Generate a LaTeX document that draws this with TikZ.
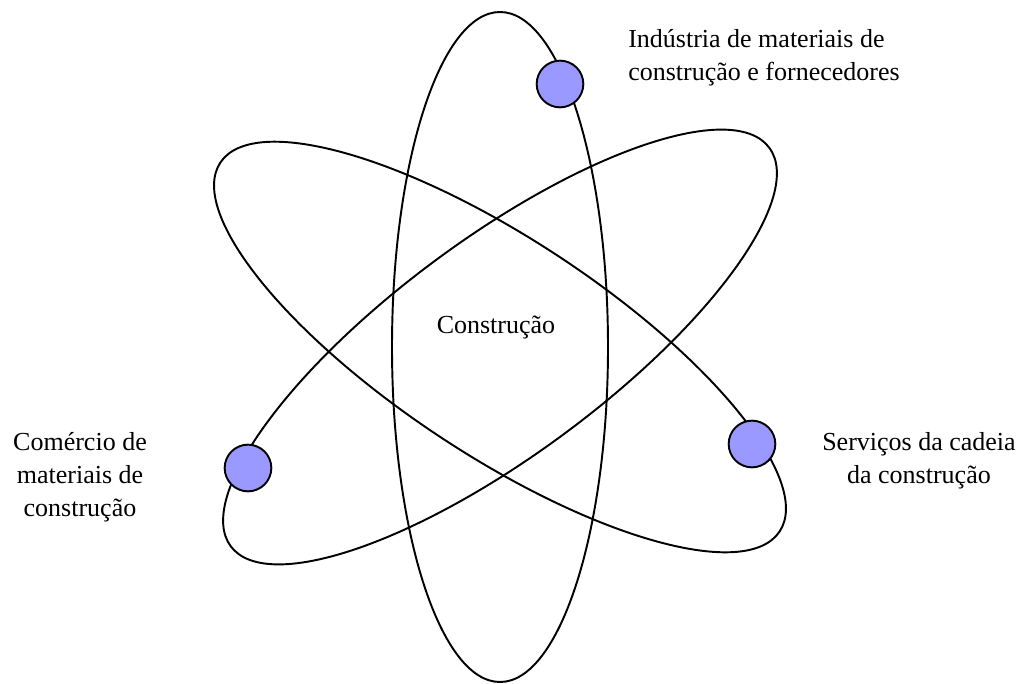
\documentclass[tikz,border=0pt]{standalone}
\usepackage{fontspec}
\setmainfont{Liberation Serif}
\definecolor{dotblue}{HTML}{9999FF}
\begin{document}
\begin{tikzpicture}[x=0.75pt,y=-0.75pt,
  orbit/.style={draw=black,line width=1.45pt},
  dot/.style={circle,draw=black,line width=1.45pt,fill=dotblue,minimum size=35pt,inner sep=0pt},
  lbl/.style={font=\fontsize{19.5pt}{24.75pt}\selectfont,inner sep=0pt}]
\useasboundingbox (0,0) rectangle (1021,684);
\coordinate (ctr) at (500,347);
% orbits
\draw[orbit] (ctr) ellipse [x radius=81pt, y radius=251.25pt];
\begin{scope}[rotate around={56.6:(ctr)}]
  \draw[orbit] (ctr) ellipse [x radius=81pt, y radius=251.25pt];
\end{scope}
\begin{scope}[rotate around={-53.5:(ctr)}]
  \draw[orbit] (ctr) ellipse [x radius=81pt, y radius=251.25pt];
\end{scope}
% electrons
\node[dot] (top) at (560,84) {};
\node[dot] (left) at (248,468) {};
\node[dot] (right) at (752,444) {};
% labels
\node[lbl] (core) at (496,328) {Construção};
\node[lbl,anchor=west,align=left] (ind) at (628,58) {Indústria de materiais de\\construção e fornecedores};
\node[lbl,align=center] (com) at (80,477) {Comércio de\\materiais de\\construção};
\node[lbl,align=center] (serv) at (919,461) {Serviços da cadeia\\da construção};
\end{tikzpicture}
\end{document}
